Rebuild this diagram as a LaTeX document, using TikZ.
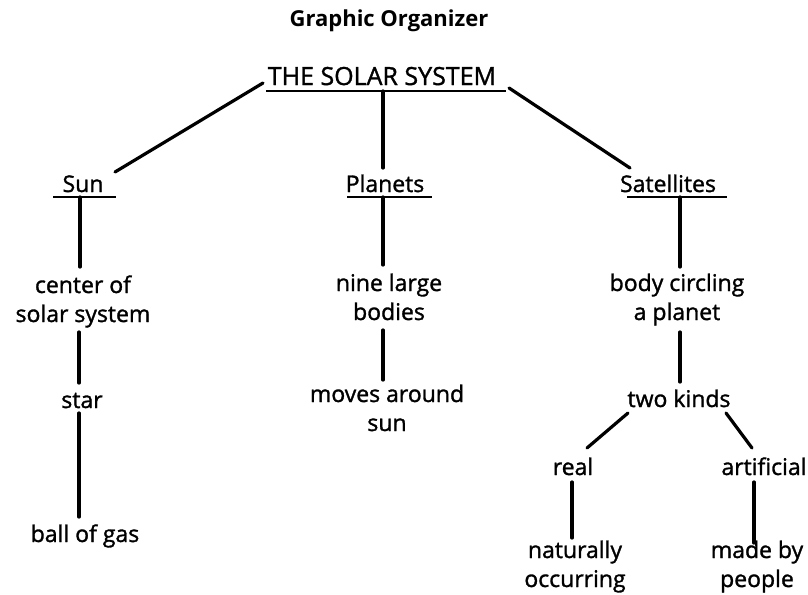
\documentclass[tikz,border=0pt]{standalone}
\usepackage{fontspec}
\setmainfont{Open Sans}
\newfontfamily\medfont{Open Sans}[BoldFont={*},BoldFeatures={FakeBold=1.3}]
\begin{document}
\begin{tikzpicture}[x=1pt,y=-1pt,
  lbl/.style={inner sep=0pt, font=\medfont\bfseries\fontsize{23}{29}\selectfont, align=center, anchor=base},
  hdr/.style={lbl},
  toplbl/.style={inner sep=0pt, font=\medfont\bfseries\fontsize{25}{30}\selectfont, anchor=base},
  ttl/.style={inner sep=0pt, font=\bfseries\fontsize{22}{26}\selectfont, anchor=base},
  ln/.style={line width=3.2pt, line cap=round},
  uln/.style={line width=2.8pt}]
\useasboundingbox (0,0) rectangle (808,594);
% texts (multi-line nodes: base = last line)
\node[ttl] (title) at (389,27) {Graphic Organizer};
\node[toplbl] (top) at (382,85) {THE SOLAR SYSTEM};
\node[hdr] (sun) at (83,192) {Sun};
\node[hdr] (pla) at (385,192) {Planets};
\node[hdr] (sat) at (668,192) {Satellites};
\node[lbl] (c1) at (83,322) {center of\\solar system};
\node[lbl] (star) at (82,408) {star};
\node[lbl] (gas) at (85,542) {ball of gas};
\node[lbl] (nine) at (389,320) {nine large\\bodies};
\node[lbl] (moves) at (387,431) {moves around\\sun};
\node[lbl] (body) at (677,320) {body circling\\a planet};
\node[lbl] (two) at (679,407) {two kinds};
\node[lbl] (real) at (573,475) {real};
\node[lbl] (art) at (764,475) {artificial};
\node[lbl] (nat) at (575,587) {naturally\\occurring};
\node[lbl] (made) at (757,587) {made by\\people};
% underlines
\coordinate (topL) at (266,91); \coordinate (topR) at (506,91);
\coordinate (sunL) at (53,197); \coordinate (sunR) at (116,197);
\coordinate (plaL) at (347,197); \coordinate (plaR) at (432,197);
\coordinate (satL) at (627,197); \coordinate (satR) at (727,197);
\draw[uln] (topL) -- (topR);
\draw[uln] (sunL) -- (sunR);
\draw[uln] (plaL) -- (plaR);
\draw[uln] (satL) -- (satR);
% connector ends
\coordinate (top-sun) at (263,83); \coordinate (sun-top) at (115,172);
\coordinate (top-sat) at (509,88); \coordinate (sat-top) at (630,168);
\coordinate (top-pla) at (383,91); \coordinate (pla-top) at (383,168);
\coordinate (sun-c1) at (80,197); \coordinate (c1-sun) at (80,267);
\coordinate (c1-star) at (79,332); \coordinate (star-c1) at (79,383);
\coordinate (star-gas) at (79,413); \coordinate (gas-star) at (79,517);
\coordinate (pla-nine) at (383,197); \coordinate (nine-pla) at (383,265);
\coordinate (nine-moves) at (383,330); \coordinate (moves-nine) at (383,380);
\coordinate (sat-body) at (680,197); \coordinate (body-sat) at (680,267);
\coordinate (body-two) at (680,332); \coordinate (two-body) at (680,382);
\coordinate (two-real) at (628,413); \coordinate (real-two) at (587,448);
\coordinate (two-art) at (726,413); \coordinate (art-two) at (752,448);
\coordinate (real-nat) at (572,482); \coordinate (nat-real) at (572,538);
\coordinate (art-made) at (754,482); \coordinate (made-art) at (754,543);
% connectors
\draw[ln] (top-sun) -- (sun-top);
\draw[ln] (top-sat) -- (sat-top);
\draw[ln] (top-pla) -- (pla-top);
\draw[ln] (sun-c1) -- (c1-sun);
\draw[ln] (c1-star) -- (star-c1);
\draw[ln] (star-gas) -- (gas-star);
\draw[ln] (pla-nine) -- (nine-pla);
\draw[ln] (nine-moves) -- (moves-nine);
\draw[ln] (sat-body) -- (body-sat);
\draw[ln] (body-two) -- (two-body);
\draw[ln] (two-real) -- (real-two);
\draw[ln] (two-art) -- (art-two);
\draw[ln] (real-nat) -- (nat-real);
\draw[ln] (art-made) -- (made-art);
\end{tikzpicture}
\end{document}
